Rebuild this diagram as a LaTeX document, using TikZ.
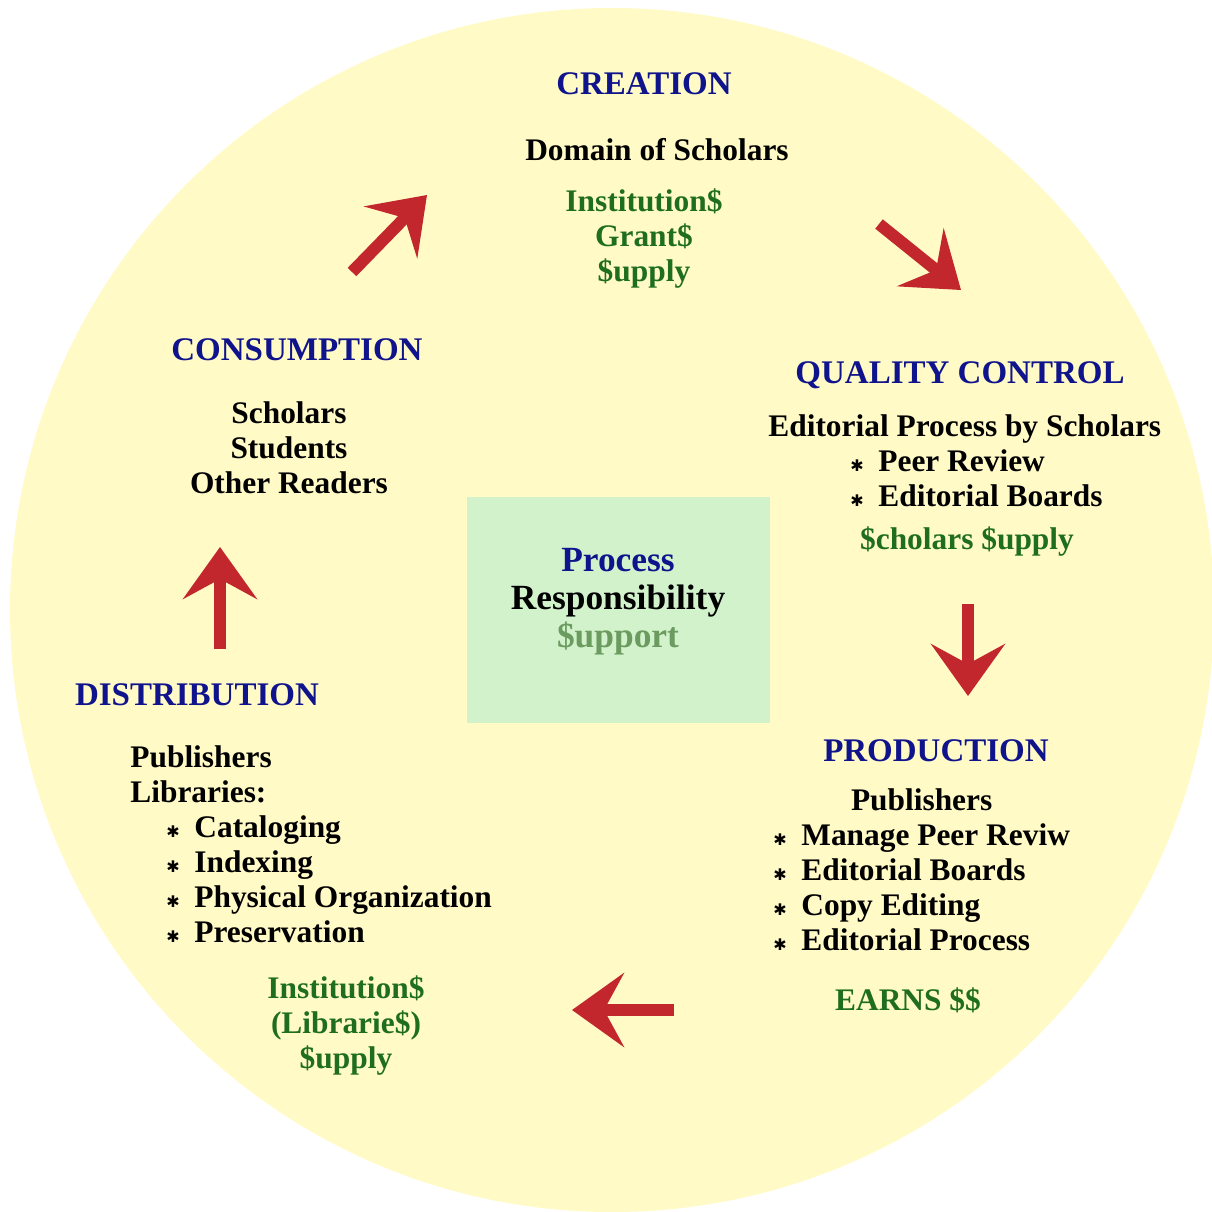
\documentclass[tikz,border=0pt]{standalone}
\usepackage{fontspec}
\setmainfont{Liberation Serif}
\newfontfamily\symb{DejaVu Sans}
\usepackage{xcolor}
\usetikzlibrary{arrows.meta,positioning}

\definecolor{bgyellow}{HTML}{FFFAC6}
\definecolor{boxgreen}{HTML}{D2F2CC}
\definecolor{headblue}{HTML}{10148C}
\definecolor{moneygreen}{HTML}{1F6E1F}
\definecolor{supgreen}{HTML}{6B9B5E}
\definecolor{arrowred}{HTML}{C1272D}

\newcommand{\bul}{\makebox[14pt][l]{\symb\fontsize{8}{8}\selectfont ✱}}

\begin{document}
\begin{tikzpicture}[
    x=0.5pt, y=-0.5pt,
    font=\bfseries\fontsize{15.7}{17.5}\selectfont,
    head/.style={
		text=headblue,
		font=\bfseries\fontsize{16.5}{18}\selectfont,
		inner sep=0pt
	},
    body/.style={
		text=black,
		inner sep=0pt
	},
    money/.style={
		text=moneygreen,
		inner sep=0pt
	},
    flow/.style={
		draw=arrowred,
		line width=6pt,
		-{Stealth[length=26pt, width=37pt, inset=10pt]}
	}
  ]
  \useasboundingbox (0,0) rectangle (1212,1212);
  \fill [bgyellow] (612,610) circle (602);

    % the box in the middle
  \node [fill=boxgreen, minimum width=151.5pt, minimum height=113pt, inner sep=0pt] (centerbox) at (618.5,610) {};
  \node [body, font=\bfseries\fontsize{17.7}{19}\selectfont] (center) at (618,602)
 {%
 \begin{tabular}{c}
  \textcolor{headblue}{Process}\\
  Responsibility\\
  \textcolor{supgreen}{\$upport}
 \end{tabular}
 };

    % creation
  \node [head] (creation) at (644,84) {CREATION};
  \node [body] (creation1) at (657,150) {Domain of Scholars};
  \node [money] (creation2) at (644,239)
 {%
 \begin{tabular}{c}
  Institution\$\\
  Grant\$\\
  \$upply
 \end{tabular}
 };

    % quality control
  \node [head] (quality) at (960,375) {QUALITY CONTROL};
  \node [body, anchor=west] (quality1) at (768,464)
 {%
 \begin{tabular}{@{}l@{}}
  Editorial Process by Scholars\\
  \hspace*{41pt}\bul Peer Review\\
  \hspace*{41pt}\bul Editorial Boards
 \end{tabular}
 };
  \node [money] (quality2) at (967,542) {\$cholars \$upply};

    % production
  \node [head] (production) at (936,751) {PRODUCTION};
  \node [body, anchor=west] (production1) at (773,873)
 {%
 \begin{tabular}{@{}l@{}}
  \multicolumn{1}{c}{Publishers}\\
  \bul Manage Peer Reviw\\
  \bul Editorial Boards\\
  \bul Copy Editing\\
  \bul Editorial Process
 \end{tabular}
 };
  \node [money] (production2) at (908,1000) {EARNS \$\$};

    % distribution
  \node [head] (distribution) at (197,695) {DISTRIBUTION};
  \node [body, anchor=west] (distribution1) at (130,848)
 {%
 \begin{tabular}{@{}l@{}}
  Publishers\\
  Libraries:\\
  \hspace*{18pt}\bul Cataloging\\
  \hspace*{18pt}\bul Indexing\\
  \hspace*{18pt}\bul Physical Organization\\
  \hspace*{18pt}\bul Preservation
 \end{tabular}
 };
  \node [money] (distribution2) at (346,1026)
 {%
 \begin{tabular}{c}
  Institution\$\\
  (Librarie\$)\\
  \$upply
 \end{tabular}
 };

    % consumption
  \node [head] (consumption) at (297,350) {CONSUMPTION};
  \node [body] (consumption1) at (289,451)
 {%
 \begin{tabular}{c}
  Scholars\\
  Students\\
  Other Readers
 \end{tabular}
 };

    % the arrows of the cycle
  \coordinate (a1from) at (352,272);
  \coordinate (a1to) at (427,195);
  \coordinate (a2from) at (879,224);
  \coordinate (a2to) at (961,290);
  \coordinate (a3from) at (968,604);
  \coordinate (a3to) at (968,696);
  \coordinate (a4from) at (674,1010);
  \coordinate (a4to) at (572,1010);
  \coordinate (a5from) at (220,649);
  \coordinate (a5to) at (220,547);

  \draw [flow] (a1from) -- (a1to);
  \draw [flow] (a2from) -- (a2to);
  \draw [flow] (a3from) -- (a3to);
  \draw [flow] (a4from) -- (a4to);
  \draw [flow] (a5from) -- (a5to);

\end{tikzpicture}
\end{document}
